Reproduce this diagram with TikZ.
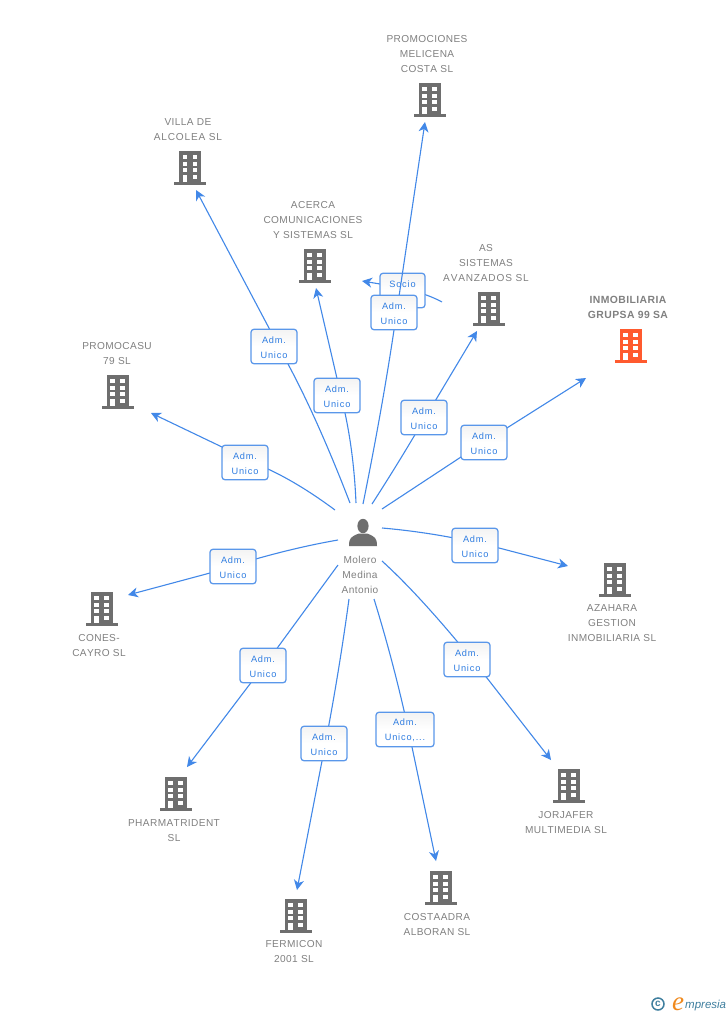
\documentclass[tikz,border=0pt]{standalone}
\usepackage{fontspec}
\setmainfont[LetterSpace=4,Kerning=Off]{Liberation Sans}
\newfontfamily\logoserif{Liberation Serif}
\newfontfamily\logosans{Liberation Sans}
\usetikzlibrary{arrows.meta,calc,shadings}
\definecolor{linkblue}{HTML}{4288E8}
\definecolor{boxblue}{HTML}{5A97EA}
\definecolor{textblue}{HTML}{2F7DE1}
\definecolor{txtgrey}{HTML}{808080}
\definecolor{iconGrey}{HTML}{6E6E6E}
\definecolor{iconRed}{HTML}{FF5A2E}
\definecolor{logoblue}{HTML}{3F7F9F}
\definecolor{logoorange}{HTML}{F08A1E}
\definecolor{boxshade}{HTML}{F3F3F3}
\newcommand{\upstrut}{\rule{0pt}{8.4pt}}
\newcommand{\widerline}[1]{{\addfontfeature{LetterSpace=8}#1}}
\tikzset{
  x=1pt,y=-1pt,
  conn/.style={draw=linkblue,line width=1.1pt,-{Stealth[length=10pt,width=10pt,inset=3pt]}},
  linkbox/.style={draw=boxblue,line width=1.25pt,rounded corners=3pt,top color=boxshade,bottom color=white,middle color=white,
     minimum height=34.5pt,inner sep=0pt,align=center,text=textblue,font=\fontsize{9.2}{15}\selectfont\addfontfeature{LetterSpace=9}},
  adm/.style={linkbox,minimum width=46pt},
  entity/.style={align=center,text=txtgrey,font=\fontsize{10.1}{15}\selectfont,inner sep=0pt},
  main entity/.style={entity,font=\fontsize{10.4}{15}\selectfont\bfseries},
  pics/bldg/.style={code={
    \fill[#1] (-11,0) rectangle (11,31);
    \fill[#1] (-16,31) rectangle (16,33.8);
    \foreach \cx in {-5.3,4.7}\foreach \cy in {6,13,19.3}
      \fill[white] (\cx-2.4,\cy-2) rectangle (\cx+2.4,\cy+2);
    \fill[white] (2.3,24) rectangle (7.1,28.3);
    \fill[white] (-7.7,24) rectangle (-2.9,31);
  }},
}
% start, control, junction (hidden behind its label), arrow end
\newcommand{\curveedge}[4]{%
  \draw[conn] (#1) .. controls ($(#1)!0.667!(#2)$) and ($(#3)!0.667!(#2)$) .. (#3) -- (#4);}
\begin{document}
\begin{tikzpicture}
\useasboundingbox (0,0) rectangle (728,1015);
\fill[white] (0,0) rectangle (728,1015);

% person
\fill[iconGrey] (363,526) ellipse (5.6 and 7.2);
\fill[iconGrey] (349,546) .. controls (349,538) and (351,536.5) .. (359,533.5) -- (367,533.5)
   .. controls (375,536.5) and (377,538) .. (377,546) -- cycle;
\node[entity] (person) at (360,575) {Molero\\Medina\\Antonio};

% buildings
\pic at (430,83)  {bldg=iconGrey};
\pic at (190.3,151) {bldg=iconGrey};
\pic at (315,249) {bldg=iconGrey};
\pic at (489,292) {bldg=iconGrey};
\pic at (631,329) {bldg=iconRed};
\pic at (118,375) {bldg=iconGrey};
\pic at (615,563) {bldg=iconGrey};
\pic at (102,592) {bldg=iconGrey};
\pic at (176,777) {bldg=iconGrey};
\pic at (569,769) {bldg=iconGrey};
\pic at (296,899) {bldg=iconGrey};
\pic at (441,871) {bldg=iconGrey};

% entity labels
\node[entity] (promociones) at (427,54) {PROMOCIONES\\MELICENA\\COSTA SL};
\node[entity] (villa) at (188,129.5) {VILLA DE\\\widerline{ALCOLEA SL}};
\node[entity] (acerca) at (313,220) {ACERCA\\COMUNICACIONES\\Y SISTEMAS SL};
\node[entity] (as) at (486,263) {AS\\SISTEMAS\\\widerline{AVANZADOS SL}};
\node[main entity] (inmo) at (628,307) {INMOBILIARIA\\GRUPSA 99 SA};
\node[entity] (promocasu) at (117,353.5) {PROMOCASU\\79 SL};
\node[entity] (azahara) at (612,623) {AZAHARA\\GESTION\\INMOBILIARIA SL};
\node[entity] (cones) at (99,645.5) {CONES-\\CAYRO SL};
\node[entity] (pharma) at (174,830.5) {PHARMATRIDENT\\SL};
\node[entity] (jorjafer) at (566,822.5) {JORJAFER\\MULTIMEDIA SL};
\node[entity] (fermicon) at (294,952) {FERMICON\\2001 SL};
\node[entity] (costa) at (437,924.5) {COSTAADRA\\ALBORAN SL};

% connector ends
\coordinate (s1) at (335,510);  \coordinate (c1) at (300,484);  \coordinate (j1) at (269,469.5);\coordinate (e1) at (151,413);
\coordinate (s2) at (350,503);  \coordinate (c2) at (318,420);  \coordinate (j2) at (288,364);  \coordinate (e2) at (196,190);
\coordinate (s3) at (356,503);  \coordinate (c3) at (354,455);  \coordinate (j3) at (345,413);  \coordinate (e3) at (316,288);
\coordinate (s4) at (363,504);  \coordinate (c4) at (382,410);  \coordinate (j4) at (394,330);  \coordinate (e4) at (425,122);
\coordinate (s5) at (372,504);  \coordinate (c5) at (392,473);  \coordinate (j5) at (410,443);  \coordinate (e5) at (477,331);
\coordinate (s6) at (382,509);  \coordinate (c6) at (420,484);  \coordinate (j6) at (461,457);  \coordinate (e6) at (586,378);
\coordinate (s7) at (382,528);  \coordinate (c7) at (440,533);  \coordinate (j7) at (499,548);  \coordinate (e7) at (568,566);
\coordinate (s8) at (382,561);  \coordinate (c8) at (425,600);  \coordinate (j8) at (487,678);  \coordinate (e8) at (551,760);
\coordinate (s9) at (374,599);  \coordinate (c9) at (396,670);  \coordinate (j9) at (412,747);  \coordinate (e9) at (436,861);
\coordinate (s10) at (349,599); \coordinate (c10) at (338,680); \coordinate (j10) at (322,761); \coordinate (e10) at (297,890);
\coordinate (s11) at (338,565); \coordinate (c11) at (308,606); \coordinate (j11) at (278,647); \coordinate (e11) at (187,767);
\coordinate (s12) at (338,540); \coordinate (c12) at (280,550); \coordinate (j12) at (210,573); \coordinate (e12) at (128,595);
\coordinate (s13) at (442,302); \coordinate (c13) at (420,290); \coordinate (j13) at (380,284); \coordinate (e13) at (362,281);

\curveedge{s13}{c13}{j13}{e13}
\node[adm,minimum width=45pt] (lab13) at (402.5,290.5) {\upstrut Socio\\/};
\foreach \i in {1,...,12}{\curveedge{s\i}{c\i}{j\i}{e\i}}

\node[adm] (lab1) at (245,462.5) {\upstrut Adm.\\Unico};
\node[adm] (lab2) at (274,346.5) {\upstrut Adm.\\Unico};
\node[adm] (lab3) at (337,395.5) {\upstrut Adm.\\Unico};
\node[adm] (lab4) at (394,312.5) {\upstrut Adm.\\Unico};
\node[adm] (lab5) at (424,417.5) {\upstrut Adm.\\Unico};
\node[adm] (lab6) at (484,442.5) {\upstrut Adm.\\Unico};
\node[adm] (lab7) at (475,545.5) {\upstrut Adm.\\Unico};
\node[adm] (lab8) at (467,659.5) {\upstrut Adm.\\Unico};
\node[linkbox,minimum width=58pt] (lab9) at (405,729.5) {\upstrut Adm.\\Unico,...};
\node[adm] (lab10) at (324,743.5) {\upstrut Adm.\\Unico};
\node[adm] (lab11) at (263,665.5) {\upstrut Adm.\\Unico};
\node[adm] (lab12) at (233,566.5) {\upstrut Adm.\\Unico};

% footer
\node[circle,draw=logoblue,line width=1.5pt,minimum size=12pt,inner sep=0pt,text=logoblue,font=\logosans\fontsize{10}{10}\selectfont\bfseries] (copy) at (658,1004) {c};
\node[inner sep=0pt,anchor=base west,text=logoorange,font=\logoserif\fontsize{27}{27}\selectfont\itshape] (elogo) at (672,1010) {e};
\node[inner sep=0pt,anchor=base west,text=logoblue,font=\logosans\fontsize{11.5}{11.5}\selectfont\itshape] (brand) at (685,1008) {mpresia};
\end{tikzpicture}
\end{document}
